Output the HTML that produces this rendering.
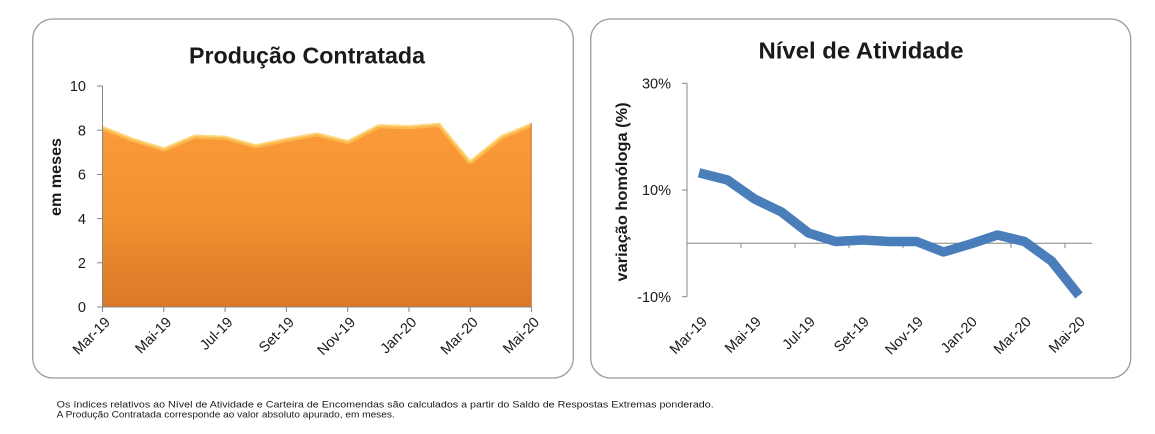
<!DOCTYPE html>
<html>
<head>
<meta charset="utf-8">
<style>
  html, body { margin:0; padding:0; background:#ffffff; }
  body { width:1155px; height:434px; overflow:hidden; }
  svg { display:block; }
  text { font-family: "Liberation Sans", "DejaVu Sans", sans-serif; fill:#1a1a1a; }
</style>
</head>
<body>
<svg width="1155" height="434" viewBox="0 0 1155 434" xmlns="http://www.w3.org/2000/svg">
  <defs>
    <linearGradient id="og" x1="0" y1="0" x2="0" y2="1">
      <stop offset="0" stop-color="#FA9B38"/>
      <stop offset="0.5" stop-color="#F29131"/>
      <stop offset="1" stop-color="#DB7828"/>
    </linearGradient>
    <clipPath id="areaClip">
      <path d="M102.5,307 L102.5,125.8 L133.15,137.9 L163.8,147.4 L194.45,134.6 L225.1,135.7 L255.75,144.3 L286.4,137.9 L317.05,132.4 L347.7,140.1 L378.35,124.2 L409,125.3 L439.65,122.7 L470.3,160 L500.95,135.3 L531.6,122.7 L531.6,307 Z"/>
    </clipPath>
  </defs>

  <!-- Panels -->
  <rect x="32.7" y="19" width="540.6" height="359" rx="20" ry="20" fill="#ffffff" stroke="#9c9c9c" stroke-width="1.3"/>
  <rect x="590.7" y="19" width="540" height="359" rx="20" ry="20" fill="#ffffff" stroke="#9c9c9c" stroke-width="1.3"/>

  <!-- ===== LEFT CHART ===== -->
  <text x="307" y="63.3" font-size="23" font-weight="bold" text-anchor="middle" textLength="236" lengthAdjust="spacingAndGlyphs">Produção Contratada</text>

  <path d="M102.5,307 L102.5,125.8 L133.15,137.9 L163.8,147.4 L194.45,134.6 L225.1,135.7 L255.75,144.3 L286.4,137.9 L317.05,132.4 L347.7,140.1 L378.35,124.2 L409,125.3 L439.65,122.7 L470.3,160 L500.95,135.3 L531.6,122.7 L531.6,307 Z" fill="url(#og)"/>
  <g clip-path="url(#areaClip)">
    <polyline points="102.5,125.8 133.15,137.9 163.8,147.4 194.45,134.6 225.1,135.7 255.75,144.3 286.4,137.9 317.05,132.4 347.7,140.1 378.35,124.2 409,125.3 439.65,122.7 470.3,160 500.95,135.3 531.6,122.7" fill="none" stroke="#FCBE55" stroke-width="8" stroke-linejoin="round" opacity="0.85"/>
    <polyline points="102.5,125.8 133.15,137.9 163.8,147.4 194.45,134.6 225.1,135.7 255.75,144.3 286.4,137.9 317.05,132.4 347.7,140.1 378.35,124.2 409,125.3 439.65,122.7 470.3,160 500.95,135.3 531.6,122.7" fill="none" stroke="#FDDC84" stroke-width="3" stroke-linejoin="round"/>
    <line x1="531.6" y1="120" x2="531.6" y2="307" stroke="#C96E22" stroke-width="2"/>
  </g>

  <g stroke="#868686" stroke-width="1" fill="none">
    <line x1="102.5" y1="86" x2="102.5" y2="307"/>
    <line x1="102.5" y1="307" x2="532" y2="307"/>
    <line x1="97" y1="86" x2="102.5" y2="86"/>
    <line x1="97" y1="130.2" x2="102.5" y2="130.2"/>
    <line x1="97" y1="174.4" x2="102.5" y2="174.4"/>
    <line x1="97" y1="218.6" x2="102.5" y2="218.6"/>
    <line x1="97" y1="262.8" x2="102.5" y2="262.8"/>
    <line x1="97" y1="307" x2="102.5" y2="307"/>
    <line x1="102.5" y1="307" x2="102.5" y2="312"/>
    <line x1="163.8" y1="307" x2="163.8" y2="312"/>
    <line x1="225.1" y1="307" x2="225.1" y2="312"/>
    <line x1="286.4" y1="307" x2="286.4" y2="312"/>
    <line x1="347.7" y1="307" x2="347.7" y2="312"/>
    <line x1="409" y1="307" x2="409" y2="312"/>
    <line x1="470.3" y1="307" x2="470.3" y2="312"/>
    <line x1="531.6" y1="307" x2="531.6" y2="312"/>
  </g>
  <g font-size="14.5" text-anchor="end">
    <text x="86" y="91.2">10</text>
    <text x="86" y="135.4">8</text>
    <text x="86" y="179.6">6</text>
    <text x="86" y="223.8">4</text>
    <text x="86" y="268">2</text>
    <text x="86" y="312.2">0</text>
  </g>
  <text transform="translate(61,177) rotate(-90)" font-size="16" font-weight="bold" text-anchor="middle" textLength="78" lengthAdjust="spacingAndGlyphs">em meses</text>

  <g font-size="14.5" text-anchor="end">
    <text transform="translate(111,323) rotate(-45)">Mar-19</text>
    <text transform="translate(172.3,323) rotate(-45)">Mai-19</text>
    <text transform="translate(233.6,323) rotate(-45)">Jul-19</text>
    <text transform="translate(294.9,323) rotate(-45)">Set-19</text>
    <text transform="translate(356.2,323) rotate(-45)">Nov-19</text>
    <text transform="translate(417.5,323) rotate(-45)">Jan-20</text>
    <text transform="translate(478.8,323) rotate(-45)">Mar-20</text>
    <text transform="translate(540.1,323) rotate(-45)">Mai-20</text>
  </g>

  <!-- ===== RIGHT CHART ===== -->
  <text x="861" y="58.5" font-size="23" font-weight="bold" text-anchor="middle" textLength="205" lengthAdjust="spacingAndGlyphs">Nível de Atividade</text>

  <g stroke="#868686" stroke-width="1" fill="none">
    <line x1="687" y1="83.3" x2="687" y2="296.7"/>
    <line x1="682" y1="83.3" x2="687" y2="83.3"/>
    <line x1="682" y1="190" x2="687" y2="190"/>
    <line x1="682" y1="296.7" x2="687" y2="296.7"/>
    <line x1="687" y1="243.3" x2="1092" y2="243.3"/>
    <line x1="741" y1="243.3" x2="741" y2="248.3"/>
    <line x1="795" y1="243.3" x2="795" y2="248.3"/>
    <line x1="849" y1="243.3" x2="849" y2="248.3"/>
    <line x1="903" y1="243.3" x2="903" y2="248.3"/>
    <line x1="957" y1="243.3" x2="957" y2="248.3"/>
    <line x1="1011" y1="243.3" x2="1011" y2="248.3"/>
    <line x1="1065" y1="243.3" x2="1065" y2="248.3"/>
  </g>
  <g font-size="14.5" text-anchor="end">
    <text x="671" y="88.5">30%</text>
    <text x="671" y="195.2">10%</text>
    <text x="671" y="301.9">-10%</text>
  </g>
  <text transform="translate(627,192) rotate(-90)" font-size="16" font-weight="bold" text-anchor="middle" textLength="179" lengthAdjust="spacingAndGlyphs">variação  homóloga  (%)</text>

  <polyline points="699,172.8 727.5,180 754.5,199 781.5,212 808.5,233 835.5,241.5 862.5,240 889.5,241.5 916.5,241.5 943.5,252 970.5,244 997.5,235 1024.5,241.5 1051.5,261 1079,295.5" fill="none" stroke="#4A7EBB" stroke-width="9.5" stroke-linejoin="round" stroke-linecap="butt"/>

  <g font-size="14.5" text-anchor="end">
    <text transform="translate(708,322.5) rotate(-45)">Mar-19</text>
    <text transform="translate(762,322.5) rotate(-45)">Mai-19</text>
    <text transform="translate(816,322.5) rotate(-45)">Jul-19</text>
    <text transform="translate(870,322.5) rotate(-45)">Set-19</text>
    <text transform="translate(924,322.5) rotate(-45)">Nov-19</text>
    <text transform="translate(978,322.5) rotate(-45)">Jan-20</text>
    <text transform="translate(1032,322.5) rotate(-45)">Mar-20</text>
    <text transform="translate(1086,322.5) rotate(-45)">Mai-20</text>
  </g>

  <!-- Footnote -->
  <text x="56.7" y="407.3" font-size="8.8" textLength="657" lengthAdjust="spacingAndGlyphs">Os índices relativos ao Nível de Atividade e Carteira de Encomendas são calculados a partir do Saldo de Respostas Extremas ponderado.</text>
  <text x="56.7" y="417.3" font-size="8.8" textLength="338" lengthAdjust="spacingAndGlyphs">A Produção Contratada corresponde ao valor absoluto apurado, em meses.</text>
</svg>
</body>
</html>
